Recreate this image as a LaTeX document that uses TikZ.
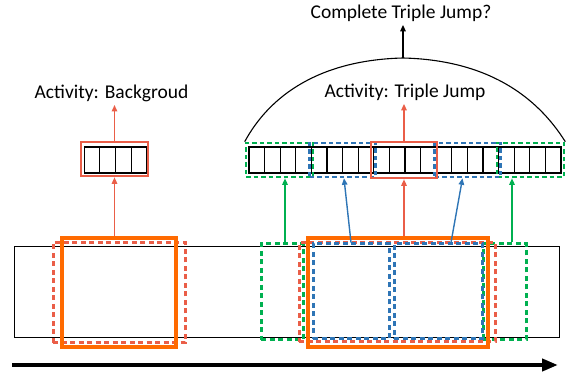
\documentclass[tikz,border=0pt]{standalone}
\usepackage{fontspec}
\setmainfont{Carlito}
\usetikzlibrary{arrows.meta}
\definecolor{actred}{RGB}{234,94,72}
\definecolor{segorange}{RGB}{255,106,0}
\definecolor{segblue}{RGB}{46,117,182}
\definecolor{seggreen}{RGB}{0,176,80}
\begin{document}
\begin{tikzpicture}[
        x = 1pt, y = -1pt,
        font = \fontsize{19.5}{23}\selectfont,
        cellrow/.style = {draw, line width = 1.1pt, inner sep = 0pt,
          minimum width = 62.4pt, minimum height = 26pt,
          path picture = {\foreach \k in {1,2,3}
            \draw[line width = 1.1pt] ([xshift = \k*15.6pt]path picture bounding box.south west)
              -- ([xshift = \k*15.6pt]path picture bounding box.north west);}},
        featbox/.style = {draw, inner sep = 0pt, minimum width = 66pt, minimum height = 34pt,
          line width = 2.6pt, dash pattern = on 4.5pt off 3pt},
        redbox/.style = {draw = actred, line width = 2.6pt, inner sep = 0pt,
          minimum width = 66pt, minimum height = 36pt},
        segbox/.style = {draw, inner sep = 0pt, line width = 3pt, dash pattern = on 5pt off 3.5pt},
        orangebox/.style = {draw = segorange, line width = 3.6pt, inner sep = 0pt,
          minimum height = 109pt},
        up/.style = {-{Triangle[length = 6.5pt, width = 5.5pt]}, line width = 1.4pt}
      ]
      \useasboundingbox (0, 0) rectangle (571, 374);
      % the features
      \node[cellrow] (c0) at (115.5, 160) {};
      \node[cellrow] (c1) at (280.2, 160) {};
      \node[cellrow] (c2) at (342.6, 160) {};
      \node[cellrow] (c3) at (405.0, 160) {};
      \node[cellrow] (c4) at (467.4, 160) {};
      \node[cellrow] (c5) at (529.8, 160) {};
      % boxes round the features
      \node[redbox, minimum width = 67pt, minimum height = 34pt] (r0) at (114.5, 159) {};
      \node[featbox, draw = seggreen, minimum width = 67pt] (g1) at (279.5, 160) {};
      \node[featbox, draw = seggreen, minimum width = 67pt] (g5) at (530.5, 160) {};
      \node[featbox, draw = segblue] (b2) at (342.5, 160) {};
      \node[featbox, draw = segblue] (b4) at (467.5, 160) {};
      \node[redbox] (r3) at (404, 160) {};
      % labels
      \node (bg)  at (111.5, 93) {Activity: Backgroud};
      \node (tj)  at (405, 92)   {Activity: Triple Jump};
      \node (ctj) at (401, 13)   {Complete Triple Jump?};
      \coordinate (top) at (403, 58);
      % the video and its segments
      \node[draw, line width = 1pt, inner sep = 0pt, minimum width = 545pt, minimum height = 91pt]
        (strip) at (286.5, 292.5) {};
      \node[segbox, draw = actred, minimum width = 132pt, minimum height = 100pt] (rl) at (119, 293) {};
      \node[orangebox, minimum width = 114pt] (ol) at (119, 292.5) {};
      \node[segbox, draw = seggreen, minimum width = 42pt, minimum height = 96pt] (gl) at (282, 292) {};
      \node[segbox, draw = seggreen, minimum width = 43pt, minimum height = 96pt] (gr) at (504.5, 292) {};
      \node[segbox, draw = actred, minimum width = 196pt, minimum height = 99pt] (rr) at (397, 292.5) {};
      \node[segbox, draw = segblue, minimum width = 76pt, minimum height = 95pt] (bl) at (351, 291.5) {};
      \node[segbox, draw = segblue, minimum width = 88pt, minimum height = 95pt] (br) at (438, 291.5) {};
      \node[orangebox, minimum width = 180pt] (or) at (398, 292.5) {};
      % segments to features
      \draw[up, actred]   (r0.south |- ol.north) -- (r0.south);
      \draw[up, actred]   (r3.south |- or.north) -- (r3.south);
      \draw[up, seggreen] ([xshift = 3]gl.north) -- ([xshift = 3]gl.north |- g1.south);
      \draw[up, segblue]  (bl.north) -- ([xshift = 1.5]b2.south);
      \draw[up, segblue]  ([xshift = 13]br.north) -- ([xshift = -5]b4.south);
      \draw[up, seggreen] ([xshift = 7.5]gr.north) -- ([xshift = 7.5]gr.north |- g5.south);
      % features to labels
      \draw[up, actred] (r0.north) -- (r0.north |- bg.south);
      \draw[up, actred] (r3.north) -- (r3.north |- tj.south);
      \draw[line width = 1.1pt] (g1.north west) .. controls (270, 95) and (320, 60) .. (top)
        .. controls (486, 60) and (536, 95) .. (g5.north east);
      \draw[up, black] (top) -- (top |- ctj.south);
      % time
      \coordinate (t0) at (12, 365);
      \coordinate (t1) at (558, 365);
      \draw[line width = 4.8pt, -{Triangle[length = 16pt, width = 12pt]}] (t0) -- (t1);
    \end{tikzpicture}
\end{document}
